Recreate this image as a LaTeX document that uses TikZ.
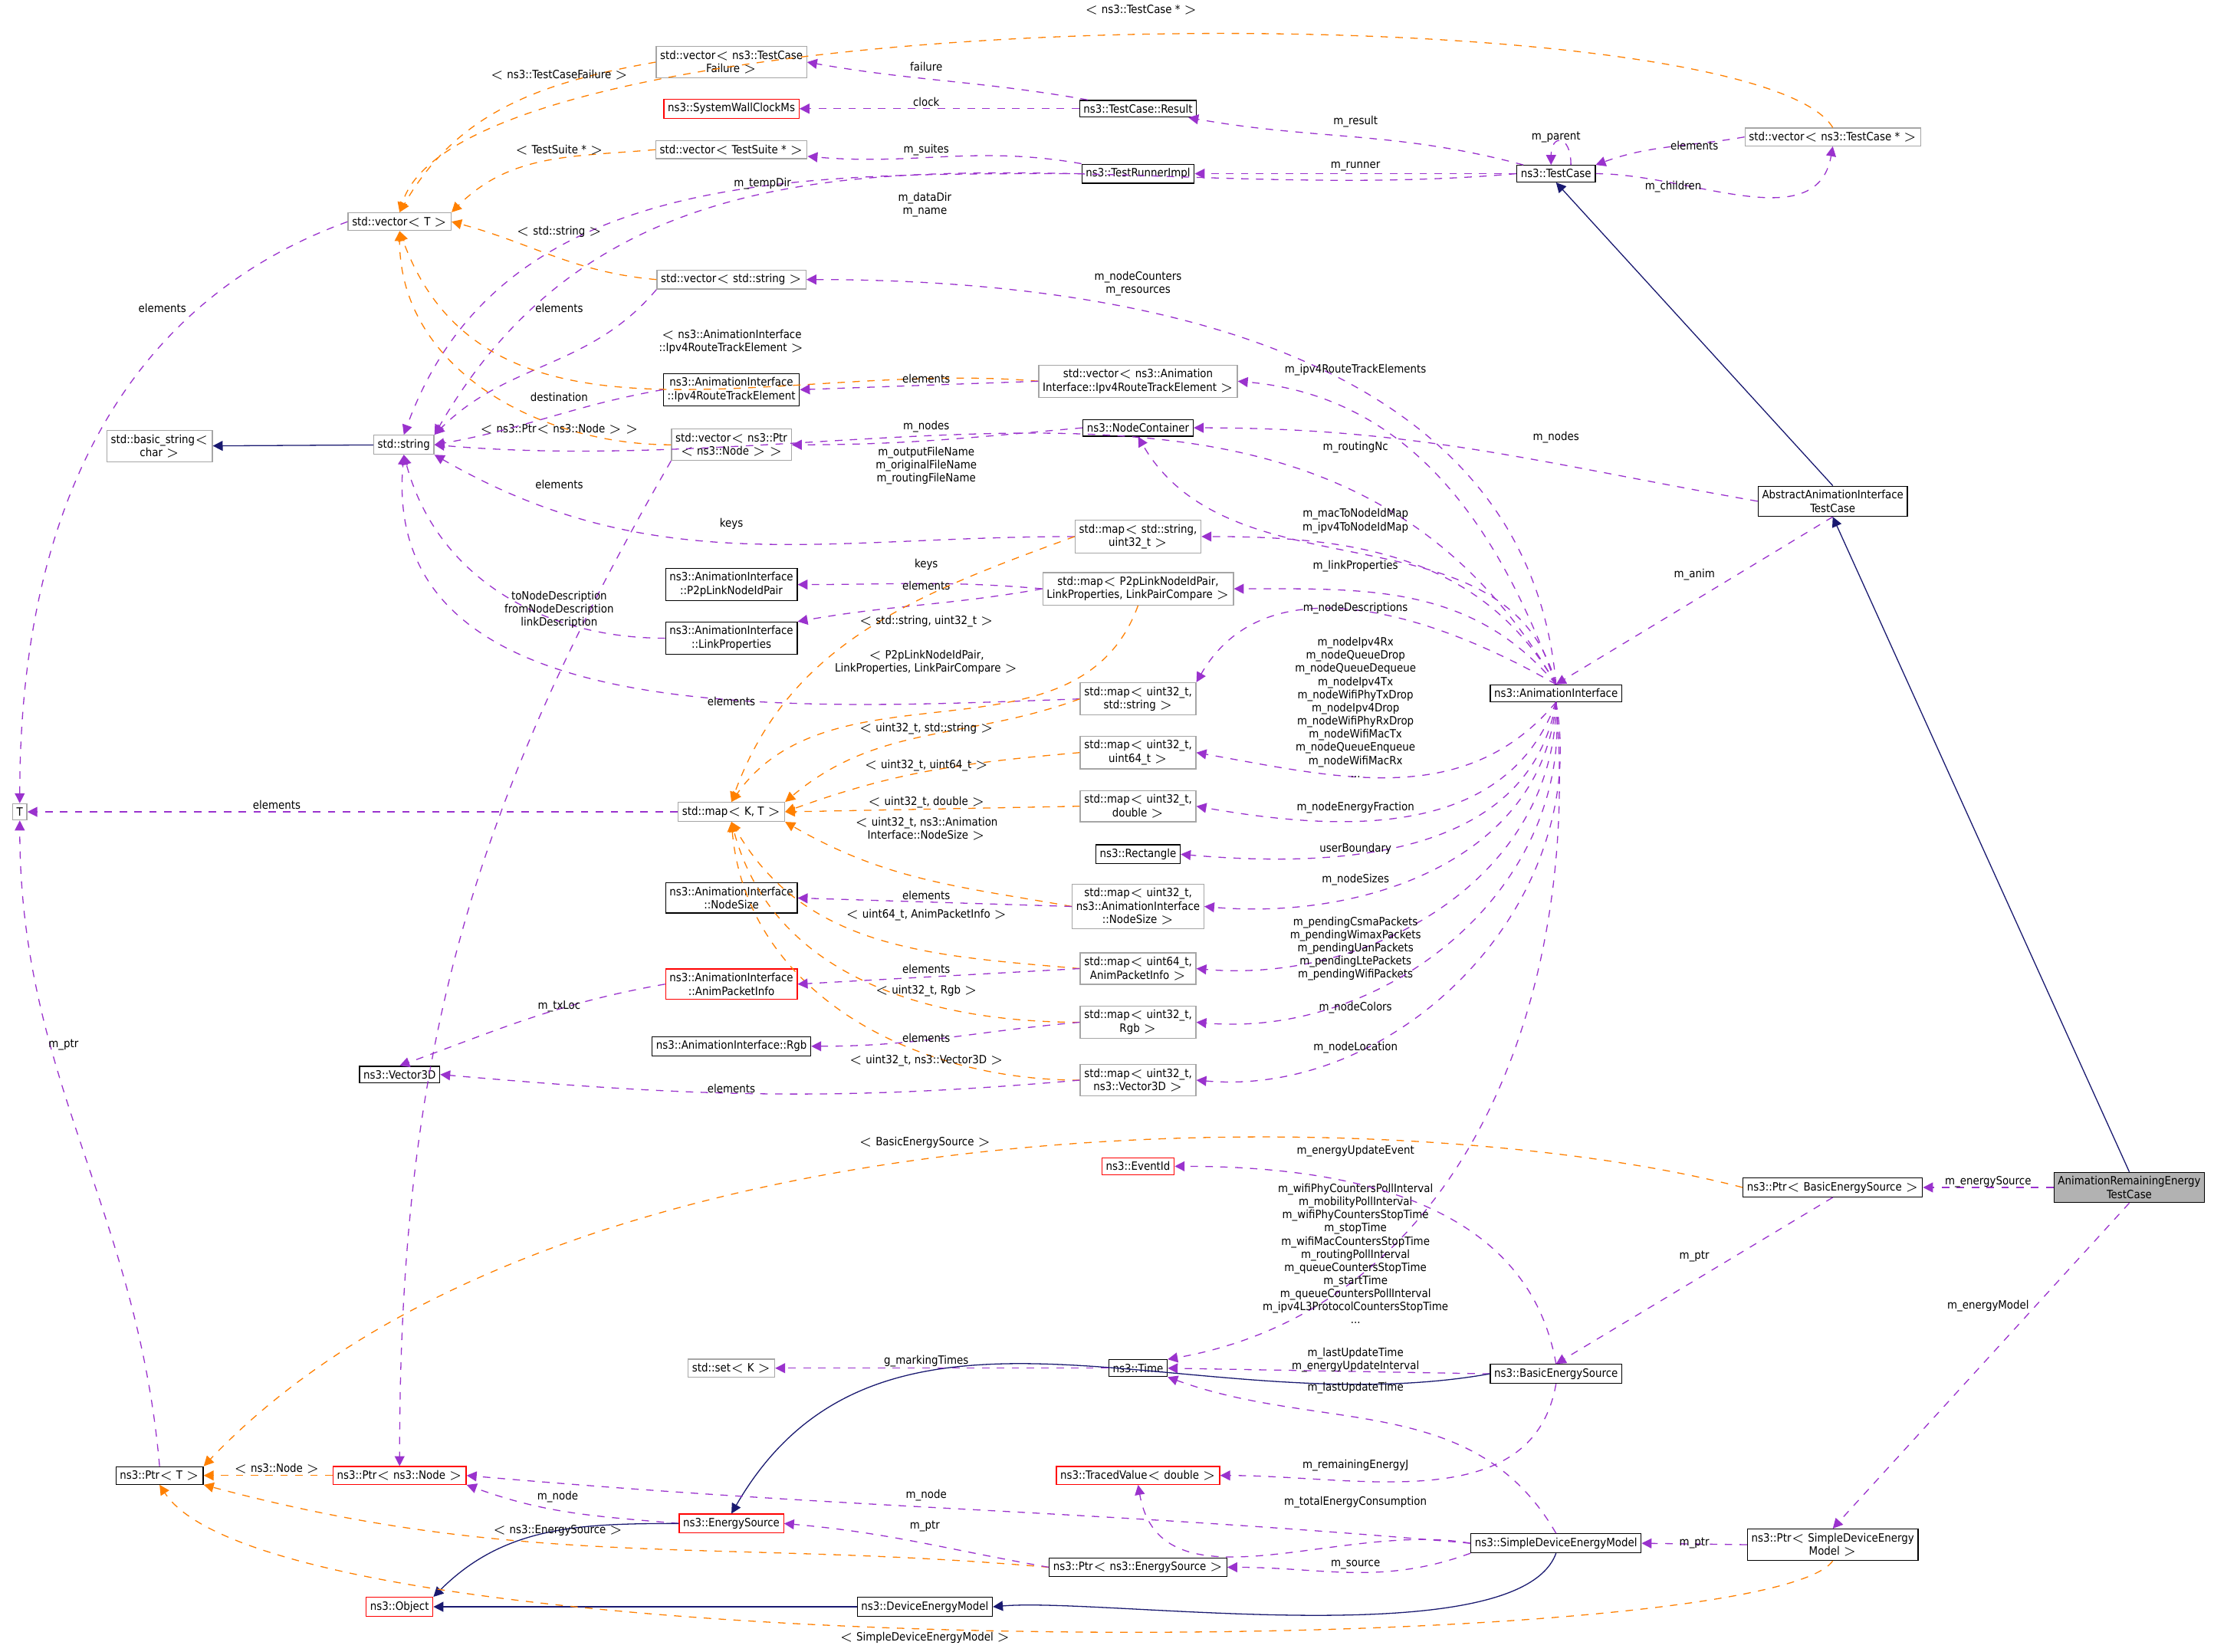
\documentclass[tikz,border=0pt]{standalone}
\usepackage{fontspec}
\setmainfont{DejaVu Sans Condensed}
\usetikzlibrary{arrows.meta}
\definecolor{edgepurple}{HTML}{9A32CD}
\definecolor{edgenavy}{HTML}{191970}
\tikzset{
  cls/.style={draw=black,fill=white,inner sep=1.6pt,align=center,font=\fontsize{4.6}{5.4}\selectfont},
  gcls/.style={cls,draw=black!35},
  rcls/.style={cls,draw=red},
  lbl/.style={inner sep=0pt,align=center,font=\fontsize{4.6}{5.3}\selectfont},
  pe/.style={draw=edgepurple,dashed,-{Triangle[length=4pt,width=4pt]}},
  te/.style={draw=orange,dashed,-{Triangle[length=4pt,width=4pt]}},
  ie/.style={draw=edgenavy,-{Triangle[length=4pt,width=4pt]}}
}
\begin{document}
\begin{tikzpicture}[x=0.02cm,y=-0.02cm]
\useasboundingbox[fill=white] (0,0) rectangle (1568,1170);
% classes
\node[gcls] (tcfail) at (518,44) {std::vector$<$ ns3::TestCase\\Failure $>$};
\node[rcls] (wallclock) at (518,77) {ns3::SystemWallClockMs};
\node[cls] (tcresult) at (806,77) {ns3::TestCase::Result};
\node[gcls] (vsuite) at (518,106) {std::vector$<$ TestSuite * $>$};
\node[cls] (runner) at (806,123) {ns3::TestRunnerImpl};
\node[cls] (tcase) at (1102,123) {ns3::TestCase};
\node[gcls] (vtcase) at (1298,97) {std::vector$<$ ns3::TestCase * $>$};
\node[gcls] (vecT) at (283,157) {std::vector$<$ T $>$};
\node[gcls] (vstring) at (518,198) {std::vector$<$ std::string $>$};
\node[cls] (iprte) at (518,276) {ns3::AnimationInterface\\::Ipv4RouteTrackElement};
\node[gcls] (viprte) at (806,270) {std::vector$<$ ns3::Animation\\Interface::Ipv4RouteTrackElement $>$};
\node[gcls] (bstring) at (113,316) {std::basic\_string$<$\\char $>$};
\node[gcls] (stdstr) at (286,315) {std::string};
\node[gcls] (vptrnode) at (518,315) {std::vector$<$ ns3::Ptr\\$<$ ns3::Node $>$ $>$};
\node[cls] (nodecont) at (806,303) {ns3::NodeContainer};
\node[cls] (abstc) at (1298,355) {AbstractAnimationInterface\\TestCase};
\node[gcls] (mapstr) at (806,380) {std::map$<$ std::string,\\uint32\_t $>$};
\node[cls] (p2pid) at (518,414) {ns3::AnimationInterface\\::P2pLinkNodeIdPair};
\node[gcls] (mapp2p) at (806,417) {std::map$<$ P2pLinkNodeIdPair,\\LinkProperties, LinkPairCompare $>$};
\node[cls] (linkprop) at (518,452) {ns3::AnimationInterface\\::LinkProperties};
\node[cls] (anim) at (1102,491) {ns3::AnimationInterface};
\node[gcls] (mapdesc) at (806,495) {std::map$<$ uint32\_t,\\std::string $>$};
\node[gcls] (map64) at (806,533) {std::map$<$ uint32\_t,\\uint64\_t $>$};
\node[gcls] (Tp) at (14,575) {T};
\node[gcls] (mapkt) at (518,575) {std::map$<$ K, T $>$};
\node[gcls] (mapdbl) at (806,571) {std::map$<$ uint32\_t,\\double $>$};
\node[cls] (rect) at (806,605) {ns3::Rectangle};
\node[cls] (nodesize) at (518,636) {ns3::AnimationInterface\\::NodeSize};
\node[gcls] (mapsize) at (806,642) {std::map$<$ uint32\_t,\\ns3::AnimationInterface\\::NodeSize $>$};
\node[rcls] (pktinfo) at (518,697) {ns3::AnimationInterface\\::AnimPacketInfo};
\node[gcls] (mappkt) at (806,686) {std::map$<$ uint64\_t,\\AnimPacketInfo $>$};
\node[cls] (rgb) at (518,741) {ns3::AnimationInterface::Rgb};
\node[gcls] (maprgb) at (806,724) {std::map$<$ uint32\_t,\\Rgb $>$};
\node[cls] (vec3d) at (283,761) {ns3::Vector3D};
\node[gcls] (mapv3d) at (806,765) {std::map$<$ uint32\_t,\\ns3::Vector3D $>$};
\node[rcls] (eventid) at (806,826) {ns3::EventId};
\node[cls] (pbes) at (1298,841) {ns3::Ptr$<$ BasicEnergySource $>$};
\node[cls,fill=black!30] (remtc) at (1508,841) {AnimationRemainingEnergy\\TestCase};
\node[gcls] (setk) at (518,969) {std::set$<$ K $>$};
\node[cls] (time) at (806,969) {ns3::Time};
\node[cls] (bes) at (1102,973) {ns3::BasicEnergySource};
\node[cls] (ptrt) at (113,1045) {ns3::Ptr$<$ T $>$};
\node[rcls] (ptrnode) at (283,1045) {ns3::Ptr$<$ ns3::Node $>$};
\node[rcls] (traced) at (806,1045) {ns3::TracedValue$<$ double $>$};
\node[rcls] (esrc) at (518,1079) {ns3::EnergySource};
\node[cls] (sdem) at (1102,1093) {ns3::SimpleDeviceEnergyModel};
\node[cls] (psdem) at (1298,1094) {ns3::Ptr$<$ SimpleDeviceEnergy\\Model $>$};
\node[cls] (pes) at (806,1110) {ns3::Ptr$<$ ns3::EnergySource $>$};
\node[rcls] (object) at (283,1138) {ns3::Object};
\node[cls] (dem) at (655,1138) {ns3::DeviceEnergyModel};
% test case part
\draw[pe] (tcase) to[out=165,in=-10] (tcresult);
\node[lbl] at (960,86) {m\_result};
\draw[pe] (tcase) -- (runner);
\node[lbl] at (960,118) {m\_runner};
\draw[pe] ([xshift=6pt]tcase.north) to[out=90,in=90,looseness=4] ([xshift=-2pt]tcase.north);
\node[lbl] at (1102,97) {m\_parent};
\draw[pe] (tcase.east) to[out=0,in=-100] (vtcase.south);
\node[lbl] at (1185,132) {m\_children};
\draw[pe] (vtcase.west) to[out=190,in=20] (tcase.north east);
\node[lbl] at (1200,103) {elements};
\draw[pe] (tcresult) to[out=170,in=-10] (tcfail.east);
\node[lbl] at (656,47) {failure};
\draw[pe] (tcresult) -- (wallclock);
\node[lbl] at (656,72) {clock};
\draw[pe] (runner) to[out=170,in=-5] (vsuite);
\node[lbl] at (656,106) {m\_suites};
\draw[pe] (runner.west) to[out=180,in=70] (stdstr.north);
\node[lbl] at (540,130) {m\_tempDir};
\draw[pe] (tcase.west) to[out=185,in=60] (stdstr.north east);
\node[lbl] at (655,145) {m\_dataDir\\m\_name};
\draw[pe] (vecT.west) to[out=200,in=90] (Tp.north);
\node[lbl] at (115,218) {elements};
\draw[te] (tcfail.west) to[out=190,in=60] (vecT.north);
\node[lbl] at (396,53) {$<$ ns3::TestCaseFailure $>$};
\draw[te] (vsuite.west) to[out=185,in=45] (vecT.north east);
\node[lbl] at (396,106) {$<$ TestSuite * $>$};
\draw[te] (vtcase.north) .. controls (1240,-6) and (330,-6) .. (vecT.north);
\node[lbl] at (808,7) {$<$ ns3::TestCase * $>$};
\draw[te] (vstring.west) to[out=175,in=-15] (vecT.east);
\node[lbl] at (396,164) {$<$ std::string $>$};
\draw[te] (viprte.west) to[out=175,in=-70] (vecT.south);
\node[lbl] at (518,242) {$<$ ns3::AnimationInterface\\::Ipv4RouteTrackElement $>$};
\draw[te] (vptrnode.west) to[out=180,in=-90] (vecT.south);
\node[lbl] at (396,304) {$<$ ns3::Ptr$<$ ns3::Node $>$ $>$};
\draw[pe] (vstring.south west) to[out=230,in=45] (stdstr.north east);
\node[lbl] at (396,218) {elements};
\draw[pe] (iprte.west) to[out=190,in=10] (stdstr.east);
\node[lbl] at (396,281) {destination};
\draw[pe] (viprte.west) -- (iprte.east);
\node[lbl] at (656,268) {elements};
\draw[ie] (stdstr) -- (bstring);
\draw[pe] (vptrnode.south west) to[out=240,in=90] (ptrnode.north);
\node[lbl] at (396,343) {elements};
\draw[pe] (nodecont.west) to[out=185,in=0] (vptrnode.east);
\node[lbl] at (656,302) {m\_nodes};
% animation interface part
\draw[pe] (anim.north) to[out=120,in=-5] (stdstr.east);
\node[lbl] at (656,330) {m\_outputFileName\\m\_originalFileName\\m\_routingFileName};
\draw[pe] (mapstr.west) to[out=180,in=-30] (stdstr.south east);
\node[lbl] at (518,371) {keys};
\draw[pe] (mapp2p.west) to[out=175,in=0] (p2pid.east);
\node[lbl] at (656,400) {keys};
\draw[pe] (mapp2p.west) to[out=190,in=10] (linkprop.north east);
\node[lbl] at (656,415) {elements};
\draw[pe] (linkprop.west) to[out=180,in=-75] (stdstr.south);
\node[lbl] at (396,432) {toNodeDescription\\fromNodeDescription\\linkDescription};
\draw[pe] (mapdesc.west) to[out=182,in=-95] (stdstr.south);
\node[lbl] at (518,497) {elements};
\draw[te] (mapstr.west) to[out=200,in=70] (mapkt.north);
\node[lbl] at (656,440) {$<$ std::string, uint32\_t $>$};
\draw[te] (mapp2p.south) to[out=250,in=55] (mapkt.north);
\node[lbl] at (656,469) {$<$ P2pLinkNodeIdPair,\\LinkProperties, LinkPairCompare $>$};
\draw[te] (mapdesc.west) to[out=200,in=40] (mapkt.north east);
\node[lbl] at (656,516) {$<$ uint32\_t, std::string $>$};
\draw[te] (map64.west) to[out=185,in=20] (mapkt.east);
\node[lbl] at (656,542) {$<$ uint32\_t, uint64\_t $>$};
\draw[te] (mapdbl.west) -- (mapkt.east);
\node[lbl] at (656,568) {$<$ uint32\_t, double $>$};
\draw[te] (mapsize.west) to[out=170,in=-30] (mapkt.south east);
\node[lbl] at (656,587) {$<$ uint32\_t, ns3::Animation\\Interface::NodeSize $>$};
\draw[te] (mappkt.west) to[out=175,in=-60] (mapkt.south);
\node[lbl] at (656,648) {$<$ uint64\_t, AnimPacketInfo $>$};
\draw[te] (maprgb.west) to[out=180,in=-75] (mapkt.south);
\node[lbl] at (656,702) {$<$ uint32\_t, Rgb $>$};
\draw[te] (mapv3d.west) to[out=180,in=-85] (mapkt.south);
\node[lbl] at (656,751) {$<$ uint32\_t, ns3::Vector3D $>$};
\draw[pe] (mapkt) -- (Tp);
\node[lbl] at (196,570) {elements};
\draw[pe] (mapsize.west) -- (nodesize.east);
\node[lbl] at (656,634) {elements};
\draw[pe] (mappkt.west) -- (pktinfo.east);
\node[lbl] at (656,686) {elements};
\draw[pe] (pktinfo.west) to[out=190,in=20] (vec3d.north);
\node[lbl] at (396,713) {m\_txLoc};
\draw[pe] (maprgb.west) to[out=185,in=0] (rgb.east);
\node[lbl] at (656,735) {elements};
\draw[pe] (mapv3d.west) to[out=185,in=-5] (vec3d.east);
\node[lbl] at (518,771) {elements};
\draw[pe] (anim.north) to[out=95,in=0] (vstring.east);
\node[lbl] at (806,201) {m\_nodeCounters\\m\_resources};
\draw[pe] (anim.north) to[out=110,in=-5] (viprte.east);
\node[lbl] at (960,262) {m\_ipv4RouteTrackElements};
\draw[pe] (anim.north) to[out=105,in=-60] (nodecont.south);
\node[lbl] at (960,317) {m\_routingNc};
\draw[pe] (abstc.west) to[out=170,in=0] (nodecont.east);
\node[lbl] at (1102,310) {m\_nodes};
\draw[ie] (abstc.north) -- (tcase.south);
\draw[pe] (abstc.south) -- (anim.north);
\node[lbl] at (1200,407) {m\_anim};
\draw[pe] (anim.north) to[out=120,in=0] (mapstr.east);
\node[lbl] at (960,369) {m\_macToNodeIdMap\\m\_ipv4ToNodeIdMap};
\draw[pe] (anim.north) to[out=130,in=0] (mapp2p.east);
\node[lbl] at (960,401) {m\_linkProperties};
\draw[pe] (anim.north) to[out=150,in=60] (mapdesc.north east);
\node[lbl] at (960,431) {m\_nodeDescriptions};
\draw[pe] (anim.south) to[out=230,in=-10] (map64.east);
\node[lbl] at (960,501) {m\_nodeIpv4Rx\\m\_nodeQueueDrop\\m\_nodeQueueDequeue\\m\_nodeIpv4Tx\\m\_nodeWifiPhyTxDrop\\m\_nodeIpv4Drop\\m\_nodeWifiPhyRxDrop\\m\_nodeWifiMacTx\\m\_nodeQueueEnqueue\\m\_nodeWifiMacRx\\...};
\draw[pe] (anim.south) to[out=250,in=-10] (mapdbl.east);
\node[lbl] at (960,572) {m\_nodeEnergyFraction};
\draw[pe] (anim.south) to[out=260,in=-5] (rect.east);
\node[lbl] at (960,601) {userBoundary};
\draw[pe] (anim.south) to[out=265,in=-5] (mapsize.east);
\node[lbl] at (960,623) {m\_nodeSizes};
\draw[pe] (anim.south) to[out=270,in=-5] (mappkt.east);
\node[lbl] at (960,672) {m\_pendingCsmaPackets\\m\_pendingWimaxPackets\\m\_pendingUanPackets\\m\_pendingLtePackets\\m\_pendingWifiPackets};
\draw[pe] (anim.south) to[out=275,in=-5] (maprgb.east);
\node[lbl] at (960,714) {m\_nodeColors};
\draw[pe] (anim.south) to[out=280,in=-5] (mapv3d.east);
\node[lbl] at (960,742) {m\_nodeLocation};
\draw[pe] (anim.south) to[out=275,in=10] (time.north east);
\node[lbl] at (960,888) {m\_wifiPhyCountersPollInterval\\m\_mobilityPollInterval\\m\_wifiPhyCountersStopTime\\m\_stopTime\\m\_wifiMacCountersStopTime\\m\_routingPollInterval\\m\_queueCountersStopTime\\m\_startTime\\m\_queueCountersPollInterval\\m\_ipv4L3ProtocolCountersStopTime\\...};
% energy part
\draw[ie] (remtc.north) -- (abstc.south);
\draw[pe] (remtc.west) -- (pbes.east);
\node[lbl] at (1408,837) {m\_energySource};
\draw[pe] (remtc.south) -- (psdem.north);
\node[lbl] at (1408,925) {m\_energyModel};
\draw[te] (pbes.west) .. controls (1000,780) and (400,770) .. (ptrt.north east);
\node[lbl] at (655,809) {$<$ BasicEnergySource $>$};
\draw[pe] (pbes.south) -- (bes.north);
\node[lbl] at (1200,890) {m\_ptr};
\draw[pe] (bes.north) to[out=100,in=0] (eventid.east);
\node[lbl] at (960,815) {m\_energyUpdateEvent};
\draw[pe] (bes.west) -- (time.east);
\node[lbl] at (960,963) {m\_lastUpdateTime\\m\_energyUpdateInterval};
\draw[ie] (bes.west) to[out=190,in=60] (esrc.north);
\draw[pe] (bes.south) to[out=260,in=0] (traced.east);
\node[lbl] at (960,1038) {m\_remainingEnergyJ};
\draw[pe] (time.west) -- (setk.east);
\node[lbl] at (656,964) {g\_markingTimes};
\draw[pe] (ptrt.north) to[out=95,in=-90] (Tp.south);
\node[lbl] at (45,740) {m\_ptr};
\draw[te] (ptrnode.west) -- (ptrt.east);
\node[lbl] at (196,1040) {$<$ ns3::Node $>$};
\draw[pe] (esrc.west) to[out=175,in=-20] (ptrnode.south east);
\node[lbl] at (395,1060) {m\_node};
\draw[ie] (esrc.west) to[out=180,in=45] (object.north east);
\draw[te] (pes.west) to[out=175,in=-15] (ptrt.south east);
\node[lbl] at (395,1084) {$<$ ns3::EnergySource $>$};
\draw[pe] (pes.west) to[out=170,in=-5] (esrc.east);
\node[lbl] at (655,1081) {m\_ptr};
\draw[pe] (sdem.west) to[out=175,in=-5] (ptrnode.east);
\node[lbl] at (656,1059) {m\_node};
\draw[pe] (sdem.west) to[out=170,in=-80] (traced.south);
\node[lbl] at (960,1064) {m\_totalEnergyConsumption};
\draw[pe] (sdem.north) to[out=120,in=-20] (time.south east);
\node[lbl] at (960,983) {m\_lastUpdateTime};
\draw[pe] (sdem.south west) to[out=200,in=0] (pes.east);
\node[lbl] at (960,1108) {m\_source};
\draw[ie] (sdem.south) to[out=250,in=5,looseness=0.5] (dem.east);
\draw[ie] (dem.west) -- (object.east);
\draw[pe] (psdem.west) -- (sdem.east);
\node[lbl] at (1200,1093) {m\_ptr};
\draw[te] (psdem.south) .. controls (1250,1175) and (200,1185) .. (ptrt.south);
\node[lbl] at (655,1160) {$<$ SimpleDeviceEnergyModel $>$};
\end{tikzpicture}
\end{document}
